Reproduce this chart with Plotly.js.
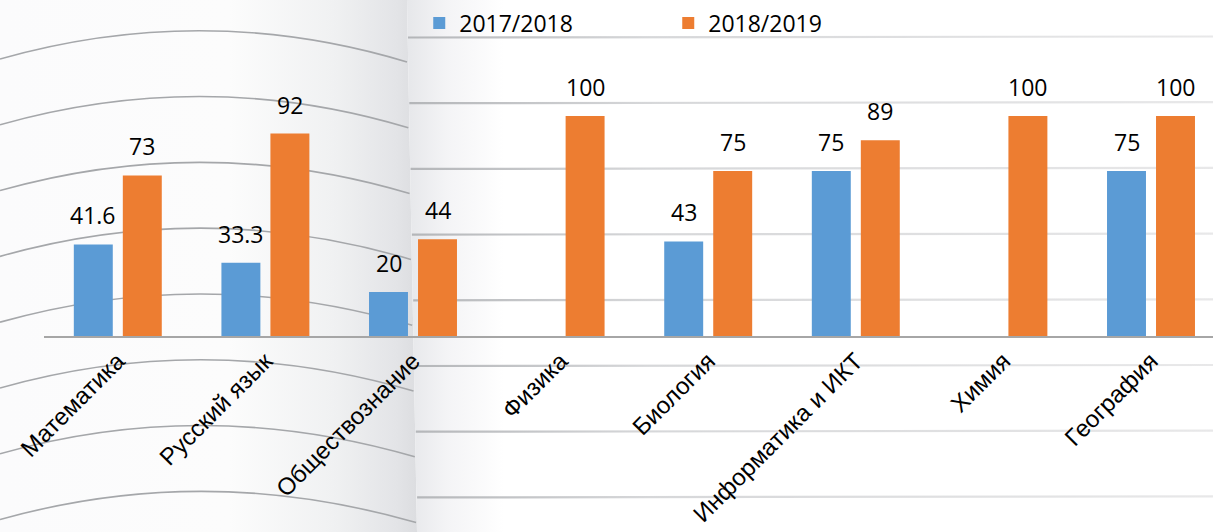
<!DOCTYPE html>
<html>
<head>
<meta charset="utf-8">
<script src="https://cdn.plot.ly/plotly-3.0.1.min.js"></script>
<style>
  html, body { margin: 0; padding: 0; background: #ffffff; }
  #wrap { position: relative; width: 1213px; height: 532px; overflow: hidden; }
  #bg { position: absolute; left: 0; top: 0; }
  #chart { position: absolute; left: 0; top: 0; width: 1213px; height: 532px; }
</style>
</head>
<body>
<div id="wrap">
<svg id="bg" width="1213" height="532" xmlns="http://www.w3.org/2000/svg">
  <defs>
    <linearGradient id="leftPage" x1="0" y1="0" x2="1" y2="0">
      <stop offset="0" stop-color="#fbfbfc"/>
      <stop offset="0.55" stop-color="#fcfcfc"/>
      <stop offset="0.8" stop-color="#f0f1f2"/>
      <stop offset="0.95" stop-color="#e3e4e7"/>
      <stop offset="1" stop-color="#dcdde0"/>
    </linearGradient>
    <linearGradient id="rightPage" x1="0" y1="0" x2="1" y2="0">
      <stop offset="0" stop-color="#e6e7ea"/>
      <stop offset="0.05" stop-color="#f4f4f6"/>
      <stop offset="0.12" stop-color="#ffffff"/>
      <stop offset="1" stop-color="#ffffff"/>
    </linearGradient>
    <linearGradient id="rightLine" gradientUnits="userSpaceOnUse" x1="405" y1="0" x2="1213" y2="0">
      <stop offset="0" stop-color="#b3b5b8"/>
      <stop offset="0.3" stop-color="#d6d7d9"/>
      <stop offset="1" stop-color="#e8e8e9"/>
    </linearGradient>
  </defs>
  <polygon points="0,0 407,0 417,532 0,532" fill="url(#leftPage)"/>
  <polygon points="407,0 1213,0 1213,532 417,532" fill="url(#rightPage)"/>
  <g id="leftLines" fill="none" stroke="#a5a7aa" stroke-width="1.6"></g>
  <g id="rightLines" fill="none" stroke="url(#rightLine)" stroke-width="2.2"></g>
</svg>
<div id="chart"></div>
</div>
<script>
// ---- data ----
var categories = ["Математика", "Русский язык", "Обществознание", "Физика", "Биология", "Информатика и ИКТ", "Химия", "География"];
var series2017 = [41.6, 33.3, 20, null, 43, 75, null, 75];
var series2018 = [73, 92, 44, 100, 75, 89, 100, 100];
var seriesNames = ["2017/2018", "2018/2019"];
var seriesColors = ["#5b9bd5", "#ed7d31"];

// ---- decorative notebook background ----
(function () {
  var ns = "http://www.w3.org/2000/svg";
  var gl = document.getElementById("leftLines");
  var gr = document.getElementById("rightLines");
  for (var k = 0; k < 8; k++) {
    var y0 = 59 + 65.8 * k;
    var p = document.createElementNS(ns, "path");
    p.setAttribute("d", "M0," + y0 + " Q205," + (y0 - 58) + " " + (407 + k * 1.3) + "," + (y0 + 3));
    gl.appendChild(p);
    var yr = 37.5 + 65.7 * k;
    var q = document.createElementNS(ns, "path");
    q.setAttribute("d", "M" + (408 + k * 1.3) + "," + yr + " L1213," + (yr - 1));
    gr.appendChild(q);
  }
})();

// ---- chart ----
var barWidth = 0.264;
var offsets = [-0.298, 0.034];
var valueFont = { family: "Open Sans, Noto Sans, sans-serif", size: 23, color: "#000000" };

var traces = [series2017, series2018].map(function (vals, s) {
  return {
    type: "bar",
    name: seriesNames[s],
    x: categories,
    y: vals,
    width: barWidth,
    offset: offsets[s],
    marker: { color: seriesColors[s], line: { width: 0 } },
    hoverinfo: "x+y+name"
  };
});

var annotations = [];
[series2017, series2018].forEach(function (vals, s) {
  vals.forEach(function (v, i) {
    if (v === null) return;
    annotations.push({
      x: i + offsets[s] + barWidth / 2,
      y: v,
      xref: "x",
      yref: "y",
      text: String(v),
      showarrow: false,
      yanchor: "bottom",
      yshift: 11,
      font: valueFont
    });
  });
});

var plotW = 1169, plotH = 296;
var layout = {
  width: 1213,
  height: 532,
  margin: { l: 44, r: 0, t: 40, b: 196, pad: 0 },
  paper_bgcolor: "rgba(0,0,0,0)",
  plot_bgcolor: "rgba(0,0,0,0)",
  barmode: "overlay",
  showlegend: true,
  legend: {
    orientation: "h",
    x: 0.321,
    xanchor: "left",
    y: 1.13,
    yanchor: "top",
    font: valueFont,
    bgcolor: "rgba(0,0,0,0)",
    entrywidth: 204,
    entrywidthmode: "pixels",
    itemclick: false,
    traceorder: "normal"
  },
  xaxis: {
    type: "category",
    range: [-0.5, -0.5 + plotW / 147.6],
    showline: true,
    linecolor: "#a6a6a6",
    linewidth: 1.5,
    showgrid: false,
    zeroline: false,
    ticks: "",
    tickangle: -45,
    tickfont: { family: "Liberation Sans, Arial, sans-serif", size: 24, color: "#000000" },
    fixedrange: true
  },
  yaxis: {
    range: [0, plotH / 2.2],
    showgrid: false,
    zeroline: false,
    showticklabels: false,
    showline: false,
    ticks: "",
    fixedrange: true
  },
  annotations: annotations
};

Plotly.newPlot("chart", traces, layout, { displayModeBar: false, staticPlot: true });
</script>
</body>
</html>
